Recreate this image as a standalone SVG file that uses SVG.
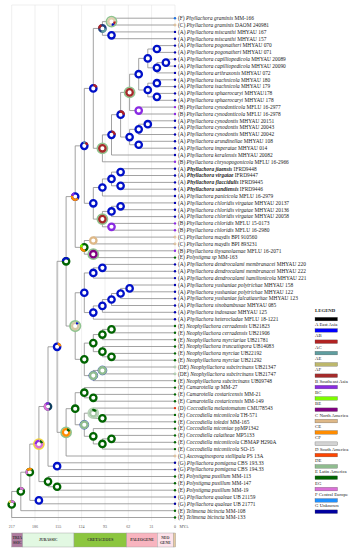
<svg xmlns="http://www.w3.org/2000/svg" width="355" height="550" viewBox="0 0 355 550">
<style>
.br{fill:none;stroke:#8a8a8a;stroke-width:0.8}
.gr{stroke:#e4e4e4;stroke-width:0.6}
.rg{fill:#fff;stroke-width:2.3}
.ac{fill:none;stroke-width:2.3}
.ha{fill:none;stroke:#8fc48f;stroke-width:1.8}
.A{stroke:#0010c8}.E{stroke:#006400}.B{stroke:#8a2be2}.AF{stroke:#a52a2a}
.lb{font-family:"Liberation Serif","Times New Roman",serif;font-size:5.4px;fill:#222}
.i{font-style:italic}.b{font-weight:bold}
.lg{font-family:"Liberation Serif","Times New Roman",serif;font-size:4.8px;fill:#222}
.ax{font-family:"Liberation Serif","Times New Roman",serif;font-size:4px;fill:#555;text-anchor:middle}
.tb{font-family:"Liberation Serif","Times New Roman",serif;font-size:3.8px;font-weight:bold;fill:#333;text-anchor:middle}
.lk{stroke:#555;stroke-width:0.3}
.dA{fill:#0000b0}.dB{fill:#8a2be2}.dC{fill:#fff;stroke:#c89a60;stroke-width:0.7}.dD{fill:#e03010}
.dDE{fill:#fff;stroke:#7fae7f;stroke-width:0.7}.dE{fill:#006400}.dF{fill:#1e70e0}.dG{fill:#0000a0}
.seg{stroke:#999;stroke-width:0.4}
</style>

<g id="grid">
<line class="gr" x1="11.7" y1="5" x2="175" y2="5"/>
<line class="gr" x1="11.7" y1="5" x2="11.7" y2="521"/>
<line class="gr" x1="35" y1="5" x2="35" y2="521"/>
<line class="gr" x1="58.3" y1="5" x2="58.3" y2="521"/>
<line class="gr" x1="81.6" y1="5" x2="81.6" y2="521"/>
<line class="gr" x1="105" y1="5" x2="105" y2="521"/>
<line class="gr" x1="128.3" y1="5" x2="128.3" y2="521"/>
<line class="gr" x1="151.6" y1="5" x2="151.6" y2="521"/>
<line class="gr" x1="175" y1="5" x2="175" y2="521"/>
</g>

<g id="connectors" class="br">
<path d="M175 18.2H111.5V25H175"/>
<path d="M175 31.9H111.5V38.7H175"/>
<path d="M111.5 21.6H102.4V35.3H111.5"/>
<path d="M175 45.6H156.9V52.4H175"/>
<path d="M175 59.2H165.9V66.1H175"/>
<path d="M165.9 62.65H156.9V72.9H175"/>
<path d="M156.9 49H147.8V67.8H156.9"/>
<path d="M175 79.8H156.9V86.6H175"/>
<path d="M175 93.4H156.9V100.3H175"/>
<path d="M156.9 83.2H147.8V96.85H156.9"/>
<path d="M147.8 58.4H138.7V90H147.8"/>
<path d="M175 107.1H138.7V114H175"/>
<path d="M138.7 74.2H129.6V110.55H138.7"/>
<path d="M175 120.8H147.8V127.6H175"/>
<path d="M147.8 124.2H138.7V134.5H175"/>
<path d="M175 141.3H138.7V148.2H175"/>
<path d="M138.7 129.35H129.6V144.75H138.7"/>
<path d="M129.6 92.4H120.6V137.05H129.6"/>
<path d="M120.6 114.7H111.5V155H175"/>
<path d="M111.5 134.85H102.4V161.8H175"/>
<path d="M102.4 28.45H93.3V148.3H102.4"/>
<path d="M175 168.7H120.6V175.5H175"/>
<path d="M175 182.4H120.6V189.2H175"/>
<path d="M120.6 172.1H111.5V185.8H120.6"/>
<path d="M111.5 178.95H102.4V196H175"/>
<path d="M175 202.9H120.6V209.7H175"/>
<path d="M120.6 206.3H111.5V216.6H175"/>
<path d="M175 223.4H111.5V230.2H175"/>
<path d="M111.5 211.45H102.4V226.8H111.5"/>
<path d="M102.4 187.5H93.3V219.1H102.4"/>
<path d="M93.3 88.4H84.3V203.3H93.3"/>
<path d="M175 237.1H93.3V243.9H175"/>
<path d="M175 250.8H93.3V257.6H175"/>
<path d="M93.3 240.5H84.3V254.2H93.3"/>
<path d="M84.3 145.85H75.2V247.35H84.3"/>
<path d="M175 264.4H102.4V271.3H175"/>
<path d="M102.4 267.85H93.3V278.1H175"/>
<path d="M175 285H129.6V291.8H175"/>
<path d="M129.6 288.4H120.6V298.6H175"/>
<path d="M120.6 293.5H111.5V305.5H175"/>
<path d="M111.5 299.5H102.4V312.3H175"/>
<path d="M102.4 305.9H93.3V319.2H175"/>
<path d="M93.3 272.95H84.3V312.55H93.3"/>
<path d="M175 326H111.5V332.8H175"/>
<path d="M111.5 329.4H102.4V339.7H175"/>
<path d="M175 353.4H111.5V360.2H175"/>
<path d="M175 346.5H102.4V356.8H111.5"/>
<path d="M102.4 334.55H93.3V351.65H102.4"/>
<path d="M175 367H102.4V373.9H175"/>
<path d="M102.4 370.45H93.3V380.7H175"/>
<path d="M93.3 343.1H84.3V375.6H93.3"/>
<path d="M84.3 292.75H75.2V359.35H84.3"/>
<path d="M75.2 196.6H66.1V326.05H75.2"/>
<path d="M175 394.4H93.3V401.2H175"/>
<path d="M175 387.6H84.3V397.8H93.3"/>
<path d="M175 414.9H102.4V421.8H175"/>
<path d="M175 408.1H93.3V418.35H102.4"/>
<path d="M175 435.4H111.5V442.3H175"/>
<path d="M111.5 438.85H102.4V449.1H175"/>
<path d="M175 428.6H93.3V443.95H102.4"/>
<path d="M93.3 413.2H84.3V436.3H93.3"/>
<path d="M84.3 392.7H75.2V424.75H84.3"/>
<path d="M75.2 408.7H66.1V456H175"/>
<path d="M66.1 261.3H57.1V432.35H66.1"/>
<path d="M175 462.8H57.1V469.6H175"/>
<path d="M57.1 346.8H48V466.2H57.1"/>
<path d="M175 483.3H57.1V490.2H175"/>
<path d="M175 476.5H48V486.75H57.1"/>
<path d="M48 406.5H38.9V481.6H48"/>
<path d="M175 497H38.9V503.8H175"/>
<path d="M38.9 444.05H29.8V500.4H38.9"/>
<path d="M29.8 472.2H20.8V510.7H175"/>
<path d="M20.8 491.45H11.7V517.5H175"/>
</g>

<g id="nodes">
<g id="n-a"><circle class="ha" cx="111.5" cy="21.6" r="5"/><circle class="rg" cx="111.5" cy="21.6" r="3.2" stroke="#e2cfae"/><circle class="ac" cx="111.5" cy="21.6" r="3.2" pathLength="100" stroke="#b22222" stroke-dasharray="12 88"/><circle class="ac" cx="111.5" cy="21.6" r="3.2" pathLength="100" stroke="#0010c8" stroke-dasharray="12 88" stroke-dashoffset="-12"/></g>
<g id="n-b"><circle class="rg" cx="102.4" cy="28.45" r="3.2" stroke="#1f3f7f"/><circle class="ac" cx="102.4" cy="28.45" r="3.2" pathLength="100" stroke="#b22222" stroke-dasharray="20 80" stroke-dashoffset="-50"/><circle class="ac" cx="102.4" cy="28.45" r="3.2" pathLength="100" stroke="#5f9ea0" stroke-dasharray="30 70"/></g>
<g id="n-c"><circle class="rg A" cx="111.5" cy="35.3" r="3.2"/></g>
<g id="n-d"><circle class="rg A" cx="93.3" cy="88.4" r="3.2"/><circle class="ac" cx="93.3" cy="88.4" r="3.2" pathLength="100" stroke="#b22222" stroke-dasharray="20 80" stroke-dashoffset="-75"/></g>
<g id="n-e"><circle class="ha" cx="102.4" cy="148.3" r="5"/><circle class="rg AF" cx="102.4" cy="148.3" r="3.2"/></g>
<g id="n-f"><circle class="rg A" cx="111.5" cy="134.85" r="3.2"/><circle class="ac" cx="111.5" cy="134.85" r="3.2" pathLength="100" stroke="#b22222" stroke-dasharray="25 75" stroke-dashoffset="-75"/></g>
<g id="n-g"><circle class="rg A" cx="120.6" cy="114.7" r="3.2"/><circle class="ac" cx="120.6" cy="114.7" r="3.2" pathLength="100" stroke="#b22222" stroke-dasharray="30 70" stroke-dashoffset="-70"/></g>
<g id="n-i"><circle class="ha" cx="129.6" cy="92.4" r="5"/><circle class="rg AF" cx="129.6" cy="92.4" r="3.2"/></g>
<g id="n-k"><circle class="rg A" cx="138.7" cy="74.2" r="3.2"/></g>
<g id="n-m"><circle class="rg A" cx="147.8" cy="58.4" r="3.2"/></g>
<g id="n-o"><circle class="rg A" cx="156.9" cy="49" r="3.2"/></g>
<g id="n-p"><circle class="rg A" cx="156.9" cy="67.8" r="3.2"/></g>
<g id="n-q"><circle class="rg A" cx="165.9" cy="62.65" r="3.2"/></g>
<g id="n-n"><circle class="rg A" cx="147.8" cy="90" r="3.2"/></g>
<g id="n-r"><circle class="rg A" cx="156.9" cy="83.2" r="3.2"/></g>
<g id="n-s"><circle class="rg A" cx="156.9" cy="96.85" r="3.2"/></g>
<g id="n-l"><circle class="rg B" cx="138.7" cy="110.55" r="3.2"/></g>
<g id="n-j"><circle class="rg A" cx="129.6" cy="137.05" r="3.2"/></g>
<g id="n-t"><circle class="rg A" cx="138.7" cy="129.35" r="3.2"/></g>
<g id="n-v"><circle class="rg A" cx="147.8" cy="124.2" r="3.2"/></g>
<g id="n-u"><circle class="rg A" cx="138.7" cy="144.75" r="3.2"/></g>
<g id="n-w"><circle class="rg A" cx="84.3" cy="145.85" r="3.2"/><circle class="ac" cx="84.3" cy="145.85" r="3.2" pathLength="100" stroke="#b22222" stroke-dasharray="15 85" stroke-dashoffset="-80"/><circle class="ac" cx="84.3" cy="145.85" r="3.2" pathLength="100" stroke="#5f9ea0" stroke-dasharray="10 90" stroke-dashoffset="-70"/></g>
<g id="n-x"><circle class="rg A" cx="93.3" cy="203.3" r="3.2"/></g>
<g id="n-y"><circle class="rg A" cx="102.4" cy="187.5" r="3.2"/></g>
<g id="n-aa"><circle class="rg A" cx="111.5" cy="178.95" r="3.2"/></g>
<g id="n-bb"><circle class="rg A" cx="120.6" cy="172.1" r="3.2"/></g>
<g id="n-cc"><circle class="rg A" cx="120.6" cy="185.8" r="3.2"/></g>
<g id="n-z"><circle class="ha" cx="102.4" cy="219.1" r="5"/><circle class="rg AF" cx="102.4" cy="219.1" r="3.2"/></g>
<g id="n-dd"><circle class="rg A" cx="111.5" cy="211.45" r="3.2"/></g>
<g id="n-ff"><circle class="rg A" cx="120.6" cy="206.3" r="3.2"/></g>
<g id="n-ee"><circle class="rg B" cx="111.5" cy="226.8" r="3.2"/></g>
<g id="n-gg"><circle class="rg A" cx="75.2" cy="196.6" r="3.2"/><circle class="ac" cx="75.2" cy="196.6" r="3.2" pathLength="100" stroke="#ff8c00" stroke-dasharray="45 55" stroke-dashoffset="-10"/><circle class="ac" cx="75.2" cy="196.6" r="3.2" pathLength="100" stroke="#8a2be2" stroke-dasharray="15 85" stroke-dashoffset="-55"/></g>
<g id="n-hh"><circle class="rg E" cx="84.3" cy="247.35" r="3.2"/><circle class="ac" cx="84.3" cy="247.35" r="3.2" pathLength="100" stroke="#ff8c00" stroke-dasharray="30 70" stroke-dashoffset="-20"/><circle class="ac" cx="84.3" cy="247.35" r="3.2" pathLength="100" stroke="#7cfc00" stroke-dasharray="15 85" stroke-dashoffset="-50"/></g>
<g id="n-ii"><circle class="rg" cx="93.3" cy="240.5" r="3.2" stroke="#deb887"/></g>
<g id="n-jj"><circle class="ha" cx="93.3" cy="254.2" r="5"/><circle class="rg" cx="93.3" cy="254.2" r="3.2" stroke="#800080"/></g>
<g id="n-kk"><circle class="rg E" cx="66.1" cy="261.3" r="3.2"/><circle class="ac" cx="66.1" cy="261.3" r="3.2" pathLength="100" stroke="#0010c8" stroke-dasharray="40 60" stroke-dashoffset="-50"/></g>
<g id="n-38"><circle class="rg A" cx="102.4" cy="267.85" r="3.2"/></g>
<g id="n-39"><circle class="rg A" cx="93.3" cy="272.95" r="3.2"/></g>
<g id="n-41"><circle class="rg A" cx="129.6" cy="288.4" r="3.2"/></g>
<g id="n-42"><circle class="rg A" cx="120.6" cy="293.5" r="3.2"/></g>
<g id="n-43"><circle class="rg A" cx="111.5" cy="299.5" r="3.2"/></g>
<g id="n-44"><circle class="rg A" cx="102.4" cy="305.9" r="3.2"/></g>
<g id="n-45"><circle class="rg A" cx="93.3" cy="312.55" r="3.2"/></g>
<g id="n-na"><circle class="rg A" cx="84.3" cy="292.75" r="3.2"/></g>
<g id="n-325"><circle class="ha" cx="75.2" cy="326.05" r="5.2"/><circle class="rg" cx="75.2" cy="326.05" r="3.2" stroke="#d6c9a6"/><circle class="ac" cx="75.2" cy="326.05" r="3.2" pathLength="100" stroke="#0010c8" stroke-dasharray="10 90" stroke-dashoffset="-80"/></g>
<g id="n-47"><circle class="rg E" cx="111.5" cy="329.4" r="3.2"/></g>
<g id="n-48"><circle class="rg E" cx="102.4" cy="334.55" r="3.2"/></g>
<g id="n-51"><circle class="rg E" cx="111.5" cy="356.8" r="3.2"/></g>
<g id="n-49"><circle class="rg E" cx="102.4" cy="351.65" r="3.2"/></g>
<g id="n-342"><circle class="rg E" cx="93.3" cy="343.1" r="3.2"/></g>
<g id="n-53"><circle cx="102.4" cy="370.45" r="4.4" fill="none" stroke="#2a4aa8" stroke-width="0.8"/><circle class="rg" cx="102.4" cy="370.45" r="3.2" stroke="#8fbc8f"/></g>
<g id="n-54"><circle cx="93.3" cy="375.6" r="4.4" fill="none" stroke="#2a4aa8" stroke-width="0.8"/><circle class="rg" cx="93.3" cy="375.6" r="3.2" stroke="#8fbc8f"/></g>
<g id="n-dark"><circle class="rg E" cx="84.3" cy="359.35" r="3.2"/></g>
<g id="n-346"><circle class="rg A" cx="57.1" cy="346.8" r="3.2"/><circle class="ac" cx="57.1" cy="346.8" r="3.2" pathLength="100" stroke="#ff8c00" stroke-dasharray="20 80" stroke-dashoffset="-78"/></g>
<g id="n-55"><circle class="rg E" cx="84.3" cy="392.7" r="3.2"/></g>
<g id="n-57"><circle class="rg E" cx="93.3" cy="397.8" r="3.2"/></g>
<g id="n-58"><circle cx="93.3" cy="413.2" r="5" fill="none" stroke="#b8d4b8" stroke-width="1.8"/><circle class="rg" cx="93.3" cy="413.2" r="3.2" stroke="#a8c8a8"/><circle class="ac" cx="93.3" cy="413.2" r="3.2" pathLength="100" stroke="#006400" stroke-dasharray="20 80" stroke-dashoffset="-70"/></g>
<g id="n-60"><circle class="rg E" cx="102.4" cy="418.35" r="3.2"/></g>
<g id="n-61"><circle class="rg E" cx="93.3" cy="436.3" r="3.2"/></g>
<g id="n-63"><circle class="rg E" cx="111.5" cy="438.85" r="3.2"/></g>
<g id="n-64"><circle class="rg E" cx="102.4" cy="443.95" r="3.2"/></g>
<g id="n-423"><circle cx="84.3" cy="424.75" r="4.4" fill="none" stroke="#2a4aa8" stroke-width="0.8"/><circle class="rg" cx="84.3" cy="424.75" r="3.2" stroke="#8fbc8f"/></g>
<g id="n-407"><circle class="rg E" cx="75.2" cy="408.7" r="3.2"/></g>
<g id="n-431"><circle class="ha" cx="66.1" cy="432.35" r="5"/><circle class="rg" cx="66.1" cy="432.35" r="3.2" stroke="#ff8c00"/><circle class="ac" cx="66.1" cy="432.35" r="3.2" pathLength="100" stroke="#006400" stroke-dasharray="15 85" stroke-dashoffset="-80"/></g>
<g id="n-406"><circle class="rg" cx="48" cy="406.5" r="3.2" stroke="#0f3f5f"/><circle class="ac" cx="48" cy="406.5" r="3.2" pathLength="100" stroke="#da70d6" stroke-dasharray="45 55" stroke-dashoffset="-20"/><circle class="ac" cx="48" cy="406.5" r="3.2" pathLength="100" stroke="#8a2be2" stroke-dasharray="15 85" stroke-dashoffset="-65"/></g>
<g id="n-67"><circle class="rg A" cx="57.1" cy="466.2" r="3.2"/></g>
<g id="n-443"><circle cx="38.9" cy="444.05" r="5" fill="none" stroke="#f0d840" stroke-width="1.8"/><circle class="rg" cx="38.9" cy="444.05" r="3.2" stroke="#da70d6"/><circle class="ac" cx="38.9" cy="444.05" r="3.2" pathLength="100" stroke="#8a2be2" stroke-dasharray="25 75" stroke-dashoffset="-50"/><circle class="ac" cx="38.9" cy="444.05" r="3.2" pathLength="100" stroke="#006400" stroke-dasharray="15 85" stroke-dashoffset="-80"/></g>
<g id="n-68"><circle class="rg E" cx="48" cy="481.6" r="3.2"/></g>
<g id="n-70"><circle class="rg E" cx="57.1" cy="486.75" r="3.2"/></g>
<g id="n-72"><circle class="rg A" cx="38.9" cy="500.4" r="3.2"/></g>
<g id="n-471"><circle class="rg E" cx="29.8" cy="472.2" r="3.2"/><circle class="ac" cx="29.8" cy="472.2" r="3.2" pathLength="100" stroke="#ff8c00" stroke-dasharray="25 75" stroke-dashoffset="-60"/><circle class="ac" cx="29.8" cy="472.2" r="3.2" pathLength="100" stroke="#da70d6" stroke-dasharray="20 80" stroke-dashoffset="-40"/></g>
<g id="n-491"><circle class="rg E" cx="20.8" cy="491.45" r="3.2"/><circle class="ac" cx="20.8" cy="491.45" r="3.2" pathLength="100" stroke="#da70d6" stroke-dasharray="20 80" stroke-dashoffset="-70"/></g>
<g id="n-root"><circle class="rg E" cx="11.7" cy="504.5" r="3.2"/><circle class="ac" cx="11.7" cy="504.5" r="3.2" pathLength="100" stroke="#da70d6" stroke-dasharray="20 80" stroke-dashoffset="-70"/><circle class="ac" cx="11.7" cy="504.5" r="3.2" pathLength="100" stroke="#f0d840" stroke-dasharray="10 90" stroke-dashoffset="-60"/></g>
</g>

<g id="leaves">
<g id="l1"><circle class="dF" cx="175" cy="18.2" r="1.2"/><text class="lb" x="178" y="20">(F) <tspan class="i">Phyllachora graminis</tspan> MM-166</text></g>
<g id="l2"><circle class="dC" cx="175" cy="25" r="1"/><text class="lb" x="178" y="26.8">(C) <tspan class="i">Phyllachora graminis</tspan> DAOM 240981</text></g>
<g id="l3"><circle class="dA" cx="175" cy="31.9" r="1.2"/><text class="lb" x="178" y="33.7">(A) <tspan class="i">Phyllachora miscanthi</tspan> MHYAU 167</text></g>
<g id="l4"><circle class="dA" cx="175" cy="38.7" r="1.2"/><text class="lb" x="178" y="40.5">(A) <tspan class="i">Phyllachora miscanthi</tspan> MHYAU 157</text></g>
<g id="l5"><circle class="dA" cx="175" cy="45.6" r="1.2"/><text class="lb" x="178" y="47.4">(A) <tspan class="i">Phyllachora pogonatheri</tspan> MHYAU 070</text></g>
<g id="l6"><circle class="dA" cx="175" cy="52.4" r="1.2"/><text class="lb" x="178" y="54.2">(A) <tspan class="i">Phyllachora pogonatheri</tspan> MHYAU 071</text></g>
<g id="l7"><circle class="dA" cx="175" cy="59.2" r="1.2"/><text class="lb" x="178" y="61">(A) <tspan class="i">Phyllachora capilliopedicola</tspan> MHYAU 20089</text></g>
<g id="l8"><circle class="dA" cx="175" cy="66.1" r="1.2"/><text class="lb" x="178" y="67.9">(A) <tspan class="i">Phyllachora capilliopedicola</tspan> MHYAU 20090</text></g>
<g id="l9"><circle class="dA" cx="175" cy="72.9" r="1.2"/><text class="lb" x="178" y="74.7">(A) <tspan class="i">Phyllachora arthraxonis</tspan> MHYAU 072</text></g>
<g id="l10"><circle class="dA" cx="175" cy="79.8" r="1.2"/><text class="lb" x="178" y="81.6">(A) <tspan class="i">Phyllachora isachnicola</tspan> MHYAU 180</text></g>
<g id="l11"><circle class="dA" cx="175" cy="86.6" r="1.2"/><text class="lb" x="178" y="88.4">(A) <tspan class="i">Phyllachora isachnicola</tspan> MHYAU 179</text></g>
<g id="l12"><circle class="dA" cx="175" cy="93.4" r="1.2"/><text class="lb" x="178" y="95.2">(A) <tspan class="i">Phyllachora sphaerocaryi</tspan> MHYAU178</text></g>
<g id="l13"><circle class="dA" cx="175" cy="100.3" r="1.2"/><text class="lb" x="178" y="102.1">(A) <tspan class="i">Phyllachora sphaerocaryi</tspan> MHYAU 178</text></g>
<g id="l14"><circle class="dB" cx="175" cy="107.1" r="1.2"/><text class="lb" x="178" y="108.9">(B) <tspan class="i">Phyllachora cynodonticola</tspan> MFLU 16-2977</text></g>
<g id="l15"><circle class="dB" cx="175" cy="114" r="1.2"/><text class="lb" x="178" y="115.8">(B) <tspan class="i">Phyllachora cynodonticola</tspan> MFLU 16-2978</text></g>
<g id="l16"><circle class="dA" cx="175" cy="120.8" r="1.2"/><text class="lb" x="178" y="122.6">(A) <tspan class="i">Phyllachora cynodontis</tspan> MHYAU 20151</text></g>
<g id="l17"><circle class="dA" cx="175" cy="127.6" r="1.2"/><text class="lb" x="178" y="129.4">(A) <tspan class="i">Phyllachora cynodontis</tspan> MHYAU 20043</text></g>
<g id="l18"><circle class="dA" cx="175" cy="134.5" r="1.2"/><text class="lb" x="178" y="136.3">(A) <tspan class="i">Phyllachora cynodontis</tspan> MHYAU 20042</text></g>
<g id="l19"><circle class="dA" cx="175" cy="141.3" r="1.2"/><text class="lb" x="178" y="143.1">(A) <tspan class="i">Phyllachora arundinellae</tspan> MHYAU 108</text></g>
<g id="l20"><circle class="dA" cx="175" cy="148.2" r="1.2"/><text class="lb" x="178" y="150">(A) <tspan class="i">Phyllachora imperatae</tspan> MHYAU 014</text></g>
<g id="l21"><circle class="dA" cx="175" cy="155" r="1.2"/><text class="lb" x="178" y="156.8">(A) <tspan class="i">Phyllachora keralensis</tspan> MHYAU 20082</text></g>
<g id="l22"><circle class="dB" cx="175" cy="161.8" r="1.2"/><text class="lb" x="178" y="163.6">(B) <tspan class="i">Phyllachora chrysopogonicola</tspan> MFLU 16-2966</text></g>
<g id="l23"><circle class="dA" cx="175" cy="168.7" r="1.2"/><text class="lb" x="178" y="170.5">(A)  <tspan class="i b">Phyllachora jiaensis</tspan> IFRD9448</text></g>
<g id="l24"><circle class="dA" cx="175" cy="175.5" r="1.2"/><text class="lb" x="178" y="177.3">(A)  <tspan class="i b">Phyllachora virgatae</tspan> IFRD9447</text></g>
<g id="l25"><circle class="dA" cx="175" cy="182.4" r="1.2"/><text class="lb" x="178" y="184.2">(A)  <tspan class="i b">Phyllachora flaccidulis</tspan> IFRD9445</text></g>
<g id="l26"><circle class="dA" cx="175" cy="189.2" r="1.2"/><text class="lb" x="178" y="191">(A)  <tspan class="i b">Phyllachora sandiensis</tspan> IFRD9446</text></g>
<g id="l27"><circle class="dA" cx="175" cy="196" r="1.2"/><text class="lb" x="178" y="197.8">(A) <tspan class="i">Phyllachora panicicola</tspan> MFLU 16-2979</text></g>
<g id="l28"><circle class="dA" cx="175" cy="202.9" r="1.2"/><text class="lb" x="178" y="204.7">(A) <tspan class="i">Phyllachora chloridis virgatae</tspan> MHYAU 20137</text></g>
<g id="l29"><circle class="dA" cx="175" cy="209.7" r="1.2"/><text class="lb" x="178" y="211.5">(A) <tspan class="i">Phyllachora chloridis virgatae</tspan> MHYAU 20136</text></g>
<g id="l30"><circle class="dA" cx="175" cy="216.6" r="1.2"/><text class="lb" x="178" y="218.4">(A) <tspan class="i">Phyllachora chloridis virgatae</tspan> MHYAU 20058</text></g>
<g id="l31"><circle class="dB" cx="175" cy="223.4" r="1.2"/><text class="lb" x="178" y="225.2">(B) <tspan class="i">Phyllachora chloridis</tspan> MFLU 15-0173</text></g>
<g id="l32"><circle class="dB" cx="175" cy="230.2" r="1.2"/><text class="lb" x="178" y="232">(B) <tspan class="i">Phyllachora chloridis</tspan> MFLU 16-2980</text></g>
<g id="l33"><circle class="dC" cx="175" cy="237.1" r="1"/><text class="lb" x="178" y="238.9">(C) <tspan class="i">Phyllachora maydis</tspan> BPI 910560</text></g>
<g id="l34"><circle class="dC" cx="175" cy="243.9" r="1"/><text class="lb" x="178" y="245.7">(C) <tspan class="i">Phyllachora maydis</tspan> BPI 893231</text></g>
<g id="l35"><circle class="dB" cx="175" cy="250.8" r="1.2"/><text class="lb" x="178" y="252.6">(B) <tspan class="i">Phyllachora thysanolaenae</tspan> MFLU 16-2071</text></g>
<g id="l36"><circle class="dE" cx="175" cy="257.6" r="1.2"/><text class="lb" x="178" y="259.4">(E) <tspan class="i">Polystigma sp</tspan> MM-163</text></g>
<g id="l37"><circle class="dA" cx="175" cy="264.4" r="1.2"/><text class="lb" x="178" y="266.2">(A) <tspan class="i">Phyllachora dendrocalami membranacei</tspan> MHYAU 220</text></g>
<g id="l38"><circle class="dA" cx="175" cy="271.3" r="1.2"/><text class="lb" x="178" y="273.1">(A) <tspan class="i">Phyllachora dendrocalami membranacei</tspan> MHYAU 222</text></g>
<g id="l39"><circle class="dA" cx="175" cy="278.1" r="1.2"/><text class="lb" x="178" y="279.9">(A) <tspan class="i">Phyllachora dendrocalami hamiltonicola</tspan> MHYAU 221</text></g>
<g id="l40"><circle class="dA" cx="175" cy="285" r="1.2"/><text class="lb" x="178" y="286.8">(A) <tspan class="i">Phyllachora yushaniae polytrichae</tspan> MHYAU 158</text></g>
<g id="l41"><circle class="dA" cx="175" cy="291.8" r="1.2"/><text class="lb" x="178" y="293.6">(A) <tspan class="i">Phyllachora yushaniae polytrichae</tspan> MHYAU 122</text></g>
<g id="l42"><circle class="dA" cx="175" cy="298.6" r="1.2"/><text class="lb" x="178" y="300.4">(A) <tspan class="i">Phyllachora yushaniae falcatiauritae</tspan> MHYAU 123</text></g>
<g id="l43"><circle class="dA" cx="175" cy="305.5" r="1.2"/><text class="lb" x="178" y="307.3">(A) <tspan class="i">Phyllachora sinobambusae</tspan> MHYAU 085</text></g>
<g id="l44"><circle class="dA" cx="175" cy="312.3" r="1.2"/><text class="lb" x="178" y="314.1">(A) <tspan class="i">Phyllachora indosasae</tspan> MHYAU 125</text></g>
<g id="l45"><circle class="dA" cx="175" cy="319.2" r="1.2"/><text class="lb" x="178" y="321">(A) <tspan class="i">Phyllachora heterocladae</tspan> MFLU 18-1221</text></g>
<g id="l46"><circle class="dE" cx="175" cy="326" r="1.2"/><text class="lb" x="178" y="327.8">(E) <tspan class="i">Neophyllachora cerradensis</tspan> UB21823</text></g>
<g id="l47"><circle class="dE" cx="175" cy="332.8" r="1.2"/><text class="lb" x="178" y="334.6">(E) <tspan class="i">Neophyllachora cerradensis</tspan> UB21906</text></g>
<g id="l48"><circle class="dE" cx="175" cy="339.7" r="1.2"/><text class="lb" x="178" y="341.5">(E) <tspan class="i">Neophyllachora myrciariae</tspan> UB21781</text></g>
<g id="l49"><circle class="dE" cx="175" cy="346.5" r="1.2"/><text class="lb" x="178" y="348.3">(E) <tspan class="i">Neophyllachora truncatispora</tspan> UB14083</text></g>
<g id="l50"><circle class="dE" cx="175" cy="353.4" r="1.2"/><text class="lb" x="178" y="355.2">(E) <tspan class="i">Neophyllachora myrciae</tspan> UB22192</text></g>
<g id="l51"><circle class="dE" cx="175" cy="360.2" r="1.2"/><text class="lb" x="178" y="362">(E) <tspan class="i">Neophyllachora myrciae</tspan> UB21292</text></g>
<g id="l52"><circle class="dDE" cx="175" cy="367" r="1"/><text class="lb" x="178" y="368.8">(DE) <tspan class="i">Neophyllachora subcircinans</tspan> UB21347</text></g>
<g id="l53"><circle class="dDE" cx="175" cy="373.9" r="1"/><text class="lb" x="178" y="375.7">(DE) <tspan class="i">Neophyllachora subcircinans</tspan> UB21747</text></g>
<g id="l54"><circle class="dE" cx="175" cy="380.7" r="1.2"/><text class="lb" x="178" y="382.5">(E) <tspan class="i">Neophyllachora subcircinans</tspan> UB09748</text></g>
<g id="l55"><circle class="dE" cx="175" cy="387.6" r="1.2"/><text class="lb" x="178" y="389.4">(E) <tspan class="i">Camarotella sp</tspan> MM-27</text></g>
<g id="l56"><circle class="dE" cx="175" cy="394.4" r="1.2"/><text class="lb" x="178" y="396.2">(E) <tspan class="i">Camarotella costaricensis</tspan> MM-21</text></g>
<g id="l57"><circle class="dE" cx="175" cy="401.2" r="1.2"/><text class="lb" x="178" y="403">(E) <tspan class="i">Camarotella costaricensis</tspan> MM-149</text></g>
<g id="l58"><circle class="dD" cx="175" cy="408.1" r="1.2"/><text class="lb" x="178" y="409.9">(D) <tspan class="i">Coccodiella melastomatum</tspan> CMU78543</text></g>
<g id="l59"><circle class="dE" cx="175" cy="414.9" r="1.2"/><text class="lb" x="178" y="416.7">(E) <tspan class="i">Coccodiella miconiicola</tspan> TH-571</text></g>
<g id="l60"><circle class="dE" cx="175" cy="421.8" r="1.2"/><text class="lb" x="178" y="423.6">(E) <tspan class="i">Coccodiella toledoi</tspan> MM-165</text></g>
<g id="l61"><circle class="dE" cx="175" cy="428.6" r="1.2"/><text class="lb" x="178" y="430.4">(E) <tspan class="i">Coccodiella miconiae</tspan> ppMP1342</text></g>
<g id="l62"><circle class="dE" cx="175" cy="435.4" r="1.2"/><text class="lb" x="178" y="437.2">(E) <tspan class="i">Coccodiella calatheae</tspan> MP5133</text></g>
<g id="l63"><circle class="dE" cx="175" cy="442.3" r="1.2"/><text class="lb" x="178" y="444.1">(E) <tspan class="i">Coccodiella miconiicola</tspan> CBMAP H290A</text></g>
<g id="l64"><circle class="dE" cx="175" cy="449.1" r="1.2"/><text class="lb" x="178" y="450.9">(E) <tspan class="i">Coccodiella miconiicola</tspan> SO-15</text></g>
<g id="l65"><circle class="dC" cx="175" cy="456" r="1"/><text class="lb" x="178" y="457.8">(C) <tspan class="i">Ascovaginospora stellipala</tspan> PS 13A</text></g>
<g id="l66"><circle class="dG" cx="175" cy="462.8" r="1.2"/><text class="lb" x="178" y="464.6">(G) <tspan class="i">Phyllachora pomigena</tspan> CBS 193.33</text></g>
<g id="l67"><circle class="dG" cx="175" cy="469.6" r="1.2"/><text class="lb" x="178" y="471.4">(G) <tspan class="i">Phyllachora pomigena</tspan> CBS 194.33</text></g>
<g id="l68"><circle class="dE" cx="175" cy="476.5" r="1.2"/><text class="lb" x="178" y="478.3">(E) <tspan class="i">Polystigma pusillum</tspan> MM-113</text></g>
<g id="l69"><circle class="dE" cx="175" cy="483.3" r="1.2"/><text class="lb" x="178" y="485.1">(E) <tspan class="i">Polystigma pusillum</tspan> MM-147</text></g>
<g id="l70"><circle class="dE" cx="175" cy="490.2" r="1.2"/><text class="lb" x="178" y="492">(E) <tspan class="i">Polystigma pusillum</tspan> MM-19</text></g>
<g id="l71"><circle class="dG" cx="175" cy="497" r="1.2"/><text class="lb" x="178" y="498.8">(G) <tspan class="i">Phyllachora qualeae</tspan> UB 21159</text></g>
<g id="l72"><circle class="dG" cx="175" cy="503.8" r="1.2"/><text class="lb" x="178" y="505.6">(G) <tspan class="i">Phyllachora qualeae</tspan> UB 21771</text></g>
<g id="l73"><circle class="dE" cx="175" cy="510.7" r="1.2"/><text class="lb" x="178" y="512.5">(E) <tspan class="i">Telimena bicincta</tspan> MM-108</text></g>
<g id="l74"><circle class="dE" cx="175" cy="517.5" r="1.2"/><text class="lb" x="178" y="519.3">(E) <tspan class="i">Telimena bicincta</tspan> MM-133</text></g>
</g>

<g id="axis">
<text class="ax" x="11.7" y="527.5">217</text>
<text class="ax" x="35" y="527.5">186</text>
<text class="ax" x="58.3" y="527.5">155</text>
<text class="ax" x="81.6" y="527.5">124</text>
<text class="ax" x="105" y="527.5">93</text>
<text class="ax" x="128.3" y="527.5">62</text>
<text class="ax" x="151.6" y="527.5">31</text>
<text class="ax" x="175" y="527.5">0</text>
<text class="ax" x="184" y="527.5">MYA</text>
</g>

<g id="timescale">
<rect class="seg" x="11.7" y="533" width="11" height="14" fill="#b07ca0"/>
<rect class="seg" x="22.7" y="533" width="51.3" height="14" fill="#e2f8e2"/>
<rect class="seg" x="74" y="533" width="52.7" height="14" fill="#8cc63f"/>
<rect class="seg" x="126.7" y="533" width="30.6" height="14" fill="#f8b4bf"/>
<rect class="seg" x="157.3" y="533" width="16" height="14" fill="#fde2ea"/>
<rect class="seg" x="173.3" y="533" width="2.4" height="14" fill="#e6c9a0"/>
<text class="tb" x="17.2" y="539.3">TRIA</text>
<text class="tb" x="17.2" y="543.6">SSIC</text>
<text class="tb" x="48.3" y="541.4">JURASSIC</text>
<text class="tb" x="100.3" y="541.4">CRETACEOUS</text>
<text class="tb" x="142" y="541.4">PALEOGENE</text>
<text class="tb" x="165.3" y="539.3">NEO</text>
<text class="tb" x="165.3" y="543.6">GENE</text>
</g>

<g id="legend">
<text class="lg b" x="315" y="312">LEGEND</text>
<rect class="lk" x="315" y="317.3" width="22.5" height="3.6" fill="#000"/>
<text class="lg" x="315" y="326">A East Asia</text><rect class="lk" x="315" y="328.6" width="22.5" height="3.6" fill="#0000ff"/>
<text class="lg" x="315" y="337.3">AB</text><rect class="lk" x="315" y="339.9" width="22.5" height="3.6" fill="#b22222"/>
<text class="lg" x="315" y="348.7">AC</text><rect class="lk" x="315" y="351.3" width="22.5" height="3.6" fill="#5f9ea0"/>
<text class="lg" x="315" y="360">AE</text><rect class="lk" x="315" y="362.6" width="22.5" height="3.6" fill="#bdb76b"/>
<text class="lg" x="315" y="371.3">AF</text><rect class="lk" x="315" y="373.9" width="22.5" height="3.6" fill="#a52a2a"/>
<text class="lg" x="315" y="382.7">B Southeast Asia</text><rect class="lk" x="315" y="385.3" width="22.5" height="3.6" fill="#8a2be2"/>
<text class="lg" x="315" y="394">BC</text><rect class="lk" x="315" y="396.6" width="22.5" height="3.6" fill="#7cfc00"/>
<text class="lg" x="315" y="405.3">BE</text><rect class="lk" x="315" y="407.9" width="22.5" height="3.6" fill="#800080"/>
<text class="lg" x="315" y="416.7">C North America</text><rect class="lk" x="315" y="419.3" width="22.5" height="3.6" fill="#deb887"/>
<text class="lg" x="315" y="428">CE</text><rect class="lk" x="315" y="430.6" width="22.5" height="3.6" fill="#ff8c00"/>
<text class="lg" x="315" y="439.3">CF</text><rect class="lk" x="315" y="441.9" width="22.5" height="3.6" fill="#d3d3d3"/>
<text class="lg" x="315" y="450.7">D South America</text><rect class="lk" x="315" y="453.3" width="22.5" height="3.6" fill="#ff4500"/>
<text class="lg" x="315" y="462">DE</text><rect class="lk" x="315" y="464.6" width="22.5" height="3.6" fill="#8fbc8f"/>
<text class="lg" x="315" y="473.3">E Latin America</text><rect class="lk" x="315" y="475.9" width="22.5" height="3.6" fill="#006400"/>
<text class="lg" x="315" y="484.7">EG</text><rect class="lk" x="315" y="487.3" width="22.5" height="3.6" fill="#da70d6"/>
<text class="lg" x="315" y="496">F Central Europe</text><rect class="lk" x="315" y="498.6" width="22.5" height="3.6" fill="#1e90ff"/>
<text class="lg" x="315" y="507.3">G Unknown</text><rect class="lk" x="315" y="509.9" width="22.5" height="3.6" fill="#0000a0"/>
</g>
</svg>
